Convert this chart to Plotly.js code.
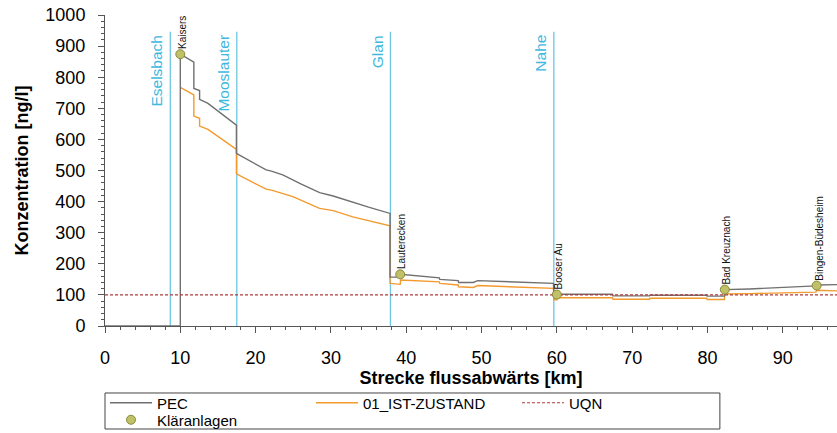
<!DOCTYPE html>
<html>
<head>
<meta charset="utf-8">
<script src="https://cdn.plot.ly/plotly-3.0.1.min.js"></script>
<style>html,body{margin:0;padding:0;background:#fff;}#chart{width:837px;height:433px;}</style>
</head>
<body>
<div id="chart"></div>
<script>
// PEC (grey) series
var pecKm  = [0, 10, 10, 11.8, 11.8, 12.56, 12.56, 13.67, 17.45, 17.45, 17.8, 21.4, 22.1, 23.6, 26, 28.5, 30.3, 32.5, 35, 37.85, 37.85, 39.2, 39.25, 44.4, 44.45, 46.9, 46.95, 48.9, 49.5, 59.55, 59.6, 67.4, 67.45, 72.3, 72.35, 79.9, 79.95, 82.25, 82.3, 85.6, 90, 94.4, 94.5, 97.2];
var pecVal = [0, 0, 874, 848, 764, 757, 729, 716, 646, 555, 550, 502, 498, 486, 457, 429, 418, 400, 382, 362, 157, 157, 166, 155, 150, 146, 140, 140, 146, 137, 102, 102, 97, 97, 99, 99, 96, 96, 117, 119, 123, 129, 132, 133];
// 01_IST-ZUSTAND (orange) series
var istKm  = [10, 11.8, 11.8, 12.56, 12.56, 13.67, 17.45, 17.45, 21.4, 22.1, 24.95, 28.5, 30.3, 32.9, 37.85, 37.85, 39.2, 39.25, 44.4, 44.45, 46.9, 46.95, 48.9, 49.5, 59.55, 59.6, 60.0, 60.05, 67.4, 67.45, 72.3, 72.35, 79.9, 79.95, 82.25, 82.3, 85.6, 90, 94.4, 94.5, 97.2];
var istVal = [767, 743, 675, 668, 643, 632, 568, 489, 440, 437, 416, 378, 371, 351, 322, 137, 134, 148, 142, 137, 132, 126, 124, 130, 121, 84, 84, 91, 91, 86, 86, 89, 89, 85, 85, 103, 104, 107, 109, 115, 113];
// UQN threshold
var uqnKm  = [0, 97.2];
var uqnVal = [100, 100];
// Kläranlagen (treatment plants)
var plantNames = ["Kaisers", "Lauterecken", "Booser Au", "Bad Kreuznach", "Bingen-Büdesheim"];
var plantKm    = [10.0, 39.2, 60.0, 82.3, 94.5];
var plantVal   = [874, 166, 101, 117, 130];
// Tributaries
var tribNames = ["Eselsbach", "Mooslauter", "Glan", "Nahe"];
var tribKm    = [8.67, 17.5, 37.9, 59.6];
var tribTop   = 946;
// Axis ticks
var xTicks = [0, 10, 20, 30, 40, 50, 60, 70, 80, 90];
var yTicks = [0, 100, 200, 300, 400, 500, 600, 700, 800, 900, 1000];

var FONT = "Arial, 'Liberation Sans', sans-serif";

var traces = [
  {x: istKm, y: istVal, type: 'scatter', mode: 'lines', name: '01_IST-ZUSTAND',
   line: {color: '#f39a2e', width: 1.4}, legendrank: 2, legend: 'legend'},
  {x: pecKm, y: pecVal, type: 'scatter', mode: 'lines', name: 'PEC',
   line: {color: '#707070', width: 1.4}, legendrank: 1, legend: 'legend'},
  {x: uqnKm, y: uqnVal, type: 'scatter', mode: 'lines', name: 'UQN',
   line: {color: '#b03a3a', width: 1.1, dash: '3px,2px'}, legendrank: 3, legend: 'legend'},
  {x: plantKm, y: plantVal, type: 'scatter', mode: 'markers', name: 'Kläranlagen',
   marker: {size: 9, color: '#c0c068', line: {color: '#8a8a3a', width: 1}}, legend: 'legend2'}
];

var shapes = tribKm.map(function(k){
  return {type: 'line', xref: 'x', yref: 'y', x0: k, x1: k, y0: 0, y1: tribTop,
          line: {color: '#6cc8e4', width: 1.3}, layer: 'below'};
});
// legend frame enclosing both legend rows
shapes.push({type: 'rect', xref: 'paper', yref: 'paper', x0: 0, x1: 0.84, y0: -0.3312, y1: -0.2154,
  line: {color: '#444', width: 1}, fillcolor: 'rgba(0,0,0,0)'});

var annotations = [];
tribNames.forEach(function(n, i){
  annotations.push({x: tribKm[i], y: tribTop, xref: 'x', yref: 'y', text: n, showarrow: false,
    textangle: -90, xanchor: 'right', yanchor: 'top', xshift: -3, yshift: -1,
    font: {family: FONT, size: 15.5, color: '#3db8e0'}});
});
plantNames.forEach(function(n, i){
  annotations.push({x: plantKm[i], y: plantVal[i], xref: 'x', yref: 'y', text: n, showarrow: false,
    textangle: -90, xanchor: 'center', yanchor: 'bottom', xshift: 2, yshift: 3,
    font: {family: FONT, size: 10, color: '#111'}});
});

var legendCommon = {orientation: 'h', x: 0, xanchor: 'left', yanchor: 'middle',
    borderwidth: 0, bgcolor: 'rgba(0,0,0,0)',
    font: {family: FONT, size: 15, color: '#000'},
    itemwidth: 42, entrywidth: 149, entrywidthmode: 'pixels', traceorder: 'normal'};

var layout = {
  width: 837, height: 433,
  margin: {l: 105, r: 0, t: 15, b: 107, pad: 0, autoexpand: false},
  paper_bgcolor: '#fff', plot_bgcolor: '#fff',
  font: {family: FONT, color: '#000'},
  showlegend: true,
  legend: Object.assign({}, legendCommon, {y: -0.2476}),
  legend2: Object.assign({}, legendCommon, {y: -0.3023}),
  xaxis: {range: [0, 97.2], tickvals: xTicks, ticks: 'outside', ticklen: 6, tickcolor: '#555',
    showline: true, linecolor: '#555', linewidth: 1, showgrid: false, zeroline: false, automargin: false,
    tickfont: {family: FONT, size: 18, color: '#000'}, ticklabelstandoff: 9,
    minor: {dtick: 2, ticks: 'outside', ticklen: 3, tickcolor: '#555', showgrid: false},
    title: {text: '<b>Strecke flussabwärts [km]</b>', font: {family: FONT, size: 18, color: '#000'}, standoff: 1}},
  yaxis: {range: [0, 1000], tickvals: yTicks, ticks: 'outside', ticklen: 6, tickcolor: '#555',
    showline: true, linecolor: '#555', linewidth: 1, showgrid: false, zeroline: false, automargin: false,
    tickfont: {family: FONT, size: 18, color: '#000'}, ticklabelstandoff: 9,
    minor: {dtick: 20, ticks: 'outside', ticklen: 3, tickcolor: '#555', showgrid: false},
    title: {text: '<b>Konzentration [ng/l]</b>', font: {family: FONT, size: 18, color: '#000'}, standoff: 12}},
  shapes: shapes,
  annotations: annotations
};

Plotly.newPlot('chart', traces, layout, {staticPlot: true, displayModeBar: false});
</script>
</body>
</html>
